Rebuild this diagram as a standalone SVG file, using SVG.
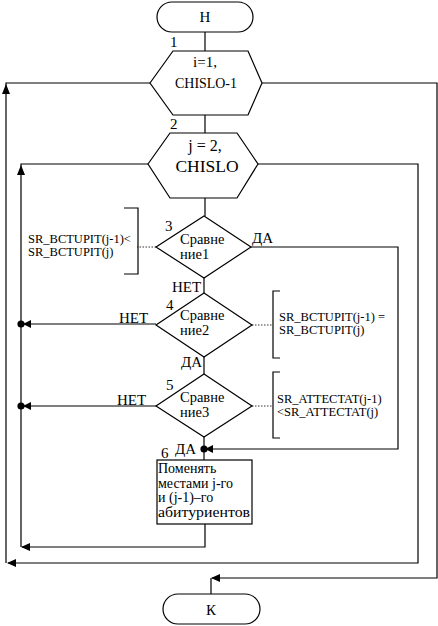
<svg xmlns="http://www.w3.org/2000/svg" width="438" height="626" viewBox="0 0 438 626">
<defs>
<style>
.s{fill:#fff;stroke:#000;stroke-width:1.2}
.l{fill:none;stroke:#000;stroke-width:1.2}
.d{fill:none;stroke:#000;stroke-width:0.8;stroke-dasharray:1.5 1.5}
text{font-family:"Liberation Serif","Times New Roman",serif;fill:#000}
.t15{font-size:15px}
.t14{font-size:14.5px}
.t13{font-size:12.5px}
.bx{font-size:14px}
.c{text-anchor:middle}
</style>
</defs>
<g id="connectors">
<path class="l" d="M205,32 V51"/>
<path class="l" d="M205,115 V133"/>
<path class="l" d="M205,198 V216"/>
<path class="l" d="M204,278 V293"/>
<path class="l" d="M204,357 V374"/>
<path class="l" d="M204,437 V460"/>
<path class="l" d="M150,83 H6 V563"/>
<path d="M6,84 L2,94 L10,94 Z"/>
<path class="l" d="M258,164 H418 V563 H8"/>
<path d="M7,563 L16,559 L16,567 Z"/>
<path class="l" d="M148,164 H21 V547"/>
<path d="M21,165 L17,175 L25,175 Z"/>
<path class="l" d="M205,524 V547 H22"/>
<path d="M21,547 L30,543 L30,551 Z"/>
<path class="l" d="M262,83 H437 V578 H212 M211,578 V594"/>
<path d="M211,578 L220,574 L220,582 Z"/>
<path class="l" d="M251,247 H398 V449 H207"/>
<circle cx="204" cy="449" r="3.6"/>
<path d="M205,449 L213,445 L213,453 Z"/>
<path class="l" d="M156,324 H24"/>
<circle cx="21" cy="324" r="3.6"/>
<path d="M23,324 L31,320 L31,328 Z"/>
<path class="l" d="M156,406 H24"/>
<circle cx="21" cy="406" r="3.6"/>
<path d="M23,406 L31,402 L31,410 Z"/>
<path class="d" d="M156,247 H137"/>
<path class="d" d="M252,325 H273"/>
<path class="d" d="M252,406 H273"/>
</g>
<g id="start">
<rect class="s" x="157" y="2" width="96" height="30" rx="15"/>
<text class="t15 c" x="205" y="22">Н</text>
</g>
<g id="node1">
<polygon class="s" points="150,83 173,51 248,51 262,83 248,115 173,115"/>
<text class="t15" x="170" y="47">1</text>
<text class="t15 c" x="205" y="67">i=1,</text>
<text class="t15 c" x="206" y="88" textLength="62" lengthAdjust="spacingAndGlyphs">CHISLO-1</text>
</g>
<g id="node2">
<polygon class="s" points="148,164 170,133 237,133 258,164 237,198 170,198"/>
<text class="t15" x="170" y="129">2</text>
<text class="c" x="205" y="151" style="font-size:16px">j = 2,</text>
<text class="c" x="207" y="172" style="font-size:17.5px">CHISLO</text>
</g>
<g id="node3">
<polygon class="s" points="204,216 251,247 204,278 156,247"/>
<text class="t15" x="165" y="231">3</text>
<text class="t14" x="180" y="244">Сравне</text>
<text class="t14" x="180" y="259">ние1</text>
<text class="t15" x="252" y="243">ДА</text>
<text class="t15" x="172" y="292">НЕТ</text>
<path class="l" d="M124,208 H138 V274 H124"/>
<text class="t13" x="28" y="243">SR_BCTUPIT(j-1)&lt;</text>
<text class="t13" x="28" y="256">SR_BCTUPIT(j)</text>
</g>
<g id="node4">
<polygon class="s" points="204,293 252,325 204,357 156,325"/>
<text class="t15" x="166" y="310">4</text>
<text class="t14" x="180" y="320">Сравне</text>
<text class="t14" x="180" y="335">ние2</text>
<text class="t15" x="119" y="323">НЕТ</text>
<text class="t15" x="181" y="367">ДА</text>
<path class="l" d="M280,291 H273 V358 H280"/>
<text class="t13" x="279" y="321">SR_BCTUPIT(j-1) =</text>
<text class="t13" x="279" y="334">SR_BCTUPIT(j)</text>
</g>
<g id="node5">
<polygon class="s" points="204,374 252,406 204,437 156,406"/>
<text class="t15" x="166" y="390">5</text>
<text class="t14" x="180" y="402">Сравне</text>
<text class="t14" x="180" y="417">ние3</text>
<text class="t15" x="117" y="405">НЕТ</text>
<text class="t15" x="175" y="454">ДА</text>
<path class="l" d="M280,372 H273 V438 H280"/>
<text class="t13" x="277" y="403">SR_ATTECTAT(j-1)</text>
<text class="t13" x="277" y="416">&lt;SR_ATTECTAT(j)</text>
</g>
<g id="node6">
<rect class="s" x="157" y="460" width="95" height="64"/>
<text class="t15" x="161" y="458">6</text>
<text class="bx" x="158" y="473">Поменять</text>
<text class="bx" x="158" y="487.5">местами j-го</text>
<text class="bx" x="158" y="502">и (j-1)–го</text>
<text class="bx" x="158" y="516.5" textLength="92" lengthAdjust="spacingAndGlyphs">абитуриентов</text>
</g>
<g id="end">
<rect class="s" x="163" y="594" width="97" height="30" rx="15"/>
<text class="t15 c" x="211" y="615">К</text>
</g>
</svg>
